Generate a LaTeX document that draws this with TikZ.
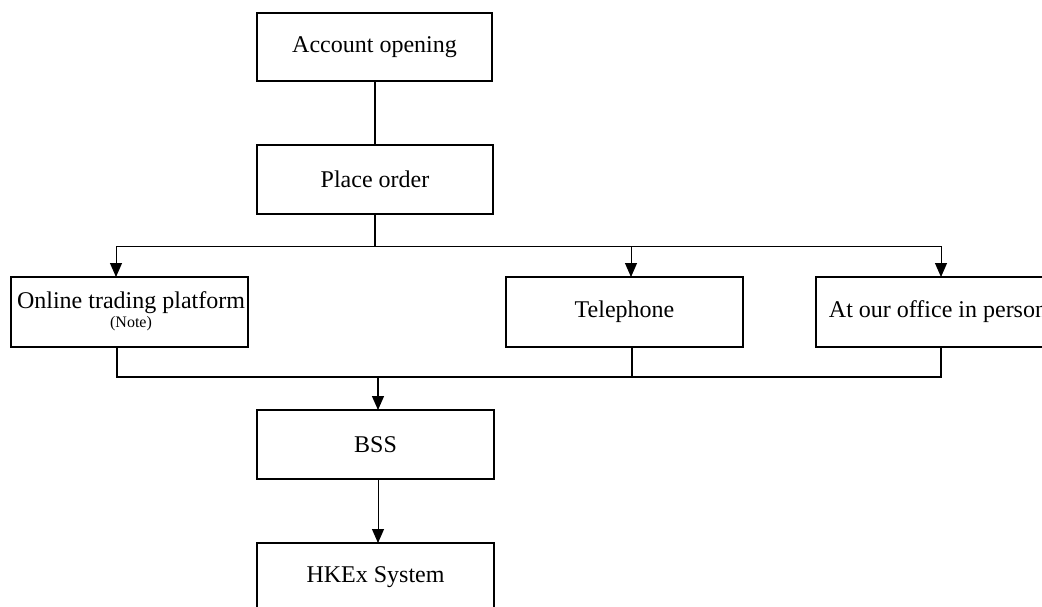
\documentclass[tikz,border=0pt]{standalone}
\usepackage{fontspec}
\setmainfont{Liberation Serif}
\usetikzlibrary{arrows.meta}
\begin{document}
\begin{tikzpicture}[x=1pt,y=-1pt,
  box/.style={draw, line width=1.5pt, inner sep=0pt, outer sep=0pt, font=\fontsize{24}{28}\selectfont},
  link/.style={line width=1.8pt},
  thinline/.style={line width=1pt},
  midline/.style={line width=1.3pt},
  arr/.style={-{Triangle[length=14pt,width=12pt]}}
]
\useasboundingbox (0,0) rectangle (1042,607);
\node[box, minimum width=235pt, minimum height=68pt] (acc) at (374.5,47) {Account opening};
\node[box, minimum width=236pt, minimum height=69pt] (po) at (375,179.5) {Place order};
\node[box, minimum width=237pt, minimum height=70pt] (onl) at (129.5,312) {};
\node[anchor=base, inner sep=0pt, font=\fontsize{24}{28}\selectfont] (onlt) at (131,308) {Online trading platform};
\node[anchor=base, inner sep=0pt, font=\fontsize{16}{18}\selectfont] (note) at (131,327) {(Note)};
\node[box, minimum width=237pt, minimum height=70pt] (tel) at (624.5,312) {Telephone};
\node[box, minimum width=244pt, minimum height=70pt] (off) at (938,312) {At our office in person};
\node[box, minimum width=237pt, minimum height=69pt] (bss) at (375.5,444.5) {BSS};
\node[box, minimum width=237pt, minimum height=69pt] (hk) at (375.5,577.5) {HKEx System};

\coordinate (split) at (375,246);
\draw[link] (acc.south -| split) -- (po.north -| split);
\coordinate (sL) at (116,246);
\coordinate (sT) at (631,246);
\coordinate (sO) at (941,246);
\draw[link] (po.south -| split) -- (split);
\draw[thinline] (sL) -- (sO);
\draw[thinline,arr] (sL) -- (sL |- onl.north);
\draw[thinline,arr] (sT) -- (sT |- tel.north);
\draw[thinline,arr] (sO) -- (sO |- off.north);

\coordinate (jL) at (117,377);
\coordinate (jT) at (632,377);
\coordinate (jO) at (941,377);
\coordinate (jB) at (378,377);
\draw[link] (onl.south -| jL) -- (jL) -- (jO) -- (off.south -| jO);
\draw[link] (tel.south -| jT) -- (jT);
\draw[midline,arr] (jB) -- (jB |- bss.north);
\draw[thinline,arr] (bss.south -| jB) -- (jB |- hk.north);
\end{tikzpicture}
\end{document}
